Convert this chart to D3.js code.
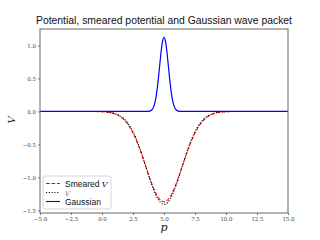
<!DOCTYPE html>
<html>
<head>
<meta charset="utf-8">
<script src="https://cdn.jsdelivr.net/npm/d3@7"></script>
<style>
  body { margin: 0; background: #fff; }
  svg { display: block; }
</style>
</head>
<body>
<svg id="chart" width="320" height="240"></svg>
<script>
// values
var pWell = [-5, -1, 0, 0.5, 1, 1.5, 2, 2.5, 3, 3.5, 4, 4.5, 5, 5.5, 6, 6.5, 7, 7.5, 8, 8.5, 9, 9.5, 10, 11, 15];
var vWell = [0, 0, -0.003, -0.010, -0.029, -0.071, -0.157, -0.307, -0.532, -0.815, -1.105, -1.327, -1.41,
             -1.327, -1.105, -0.815, -0.532, -0.307, -0.157, -0.071, -0.029, -0.010, -0.003, 0, 0];
var vSmeared = [0, -0.001, -0.004, -0.013, -0.035, -0.082, -0.173, -0.326, -0.546, -0.817, -1.089, -1.293, -1.37,
                -1.293, -1.089, -0.817, -0.546, -0.326, -0.173, -0.082, -0.035, -0.013, -0.004, -0.001, 0];

var pPacket = [-5, 3.5, 3.7, 3.8, 3.9, 4.0, 4.1, 4.2, 4.3, 4.4, 4.5, 4.6, 4.7, 4.8, 4.9, 5.0,
               5.1, 5.2, 5.3, 5.4, 5.5, 5.6, 5.7, 5.8, 5.9, 6.0, 6.1, 6.2, 6.3, 6.5, 15];
var vPacket = [0, 0, 0.001, 0.004, 0.009, 0.021, 0.045, 0.089, 0.161, 0.270, 0.417, 0.596, 0.787, 0.960, 1.081, 1.125,
               1.081, 0.960, 0.787, 0.596, 0.417, 0.270, 0.161, 0.089, 0.045, 0.021, 0.009, 0.004, 0.001, 0, 0];

var xTicks = [-5, -2.5, 0, 2.5, 5, 7.5, 10, 12.5, 15];
var yTicks = [-1.5, -1.0, -0.5, 0.0, 0.5, 1.0];

var titleText = "Potential, smeared potential and Gaussian wave packet";

var plot = {left: 40, right: 288, top: 29, bottom: 213};
var svg = d3.select("#chart");

var x = d3.scaleLinear().domain([-5, 15]).range([plot.left, plot.right]);
var y = d3.scaleLinear().domain([-1.54, 1.25]).range([plot.bottom, plot.top]);

var fmt = function(d){ return d3.format(".1f")(d).replace("-", "\u2212"); };

// axes
var xAxis = svg.append("g")
  .attr("transform", "translate(0," + plot.bottom + ")")
  .call(d3.axisBottom(x).tickValues(xTicks).tickFormat(fmt).tickSize(2).tickPadding(2));
var yAxis = svg.append("g")
  .attr("transform", "translate(" + plot.left + ",0)")
  .call(d3.axisLeft(y).tickValues(yTicks).tickFormat(fmt).tickSize(2).tickPadding(2));

[xAxis, yAxis].forEach(function(a){
  a.select(".domain").remove();
  a.selectAll("line").attr("stroke", "#555").attr("stroke-width", 0.8);
  a.selectAll("text")
    .attr("font-family", "'DejaVu Serif', serif")
    .attr("font-size", 5.5)
    .attr("fill", "#444");
});

var clip = svg.append("clipPath").attr("id", "clip")
  .append("rect")
  .attr("x", plot.left).attr("y", plot.top)
  .attr("width", plot.right - plot.left).attr("height", plot.bottom - plot.top);

var lines = svg.append("g").attr("clip-path", "url(#clip)");

var mkLine = function(px){
  return d3.line()
    .x(function(d, i){ return x(px[i]); })
    .y(function(d){ return y(d); })
    .curve(d3.curveMonotoneX);
};

lines.append("path")
  .attr("d", mkLine(pWell)(vSmeared))
  .attr("fill", "none").attr("stroke", "#ff0000")
  .attr("stroke-width", 1.1).attr("stroke-dasharray", "3.8,1.7");

lines.append("path")
  .attr("d", mkLine(pWell)(vWell))
  .attr("fill", "none").attr("stroke", "#000")
  .attr("stroke-width", 1.1).attr("stroke-dasharray", "1.1,1.7");

lines.append("path")
  .attr("d", mkLine(pPacket)(vPacket))
  .attr("fill", "none").attr("stroke", "#0000ff")
  .attr("stroke-width", 1.2);

// frame
svg.append("rect")
  .attr("x", plot.left).attr("y", plot.top)
  .attr("width", plot.right - plot.left).attr("height", plot.bottom - plot.top)
  .attr("fill", "none").attr("stroke", "#666").attr("stroke-width", 1);

// title and labels
svg.append("text")
  .attr("x", (plot.left + plot.right) / 2).attr("y", 23.5)
  .attr("text-anchor", "middle")
  .attr("font-family", "'Liberation Sans', sans-serif")
  .attr("font-size", 10)
  .attr("textLength", 256).attr("lengthAdjust", "spacingAndGlyphs")
  .attr("fill", "#111")
  .text(titleText);

svg.append("text")
  .attr("x", 164).attr("y", 231)
  .attr("text-anchor", "middle")
  .attr("font-family", "'DejaVu Serif', serif").attr("font-style", "italic")
  .attr("font-size", 11).attr("fill", "#222")
  .text("p");

svg.append("text")
  .attr("transform", "translate(15,120) rotate(-90)")
  .attr("text-anchor", "middle")
  .attr("font-family", "'DejaVu Serif', serif").attr("font-style", "italic")
  .attr("font-size", 10).attr("fill", "#222")
  .text("V");

// legend
var legend = svg.append("g").attr("transform", "translate(43,176)");
legend.append("rect")
  .attr("width", 68).attr("height", 33).attr("rx", 2)
  .attr("fill", "#fff").attr("fill-opacity", 0.8)
  .attr("stroke", "#ccc").attr("stroke-width", 0.8);

var items = [
  {label: "Smeared ", math: "V", color: "#ff0000", dash: "3.8,1.7"},
  {label: "", math: "V", color: "#000", dash: "1.1,1.7"},
  {label: "Gaussian", math: "", color: "#0000ff", dash: null}
];

items.forEach(function(it, i){
  var cy = 7.5 + i * 9;
  legend.append("line")
    .attr("x1", 3).attr("x2", 17).attr("y1", cy).attr("y2", cy)
    .attr("stroke", it.color).attr("stroke-width", 1.1)
    .attr("stroke-dasharray", it.dash);
  var t = legend.append("text")
    .attr("x", 22).attr("y", cy + 3)
    .attr("font-family", "'Liberation Sans', sans-serif")
    .attr("font-size", 8.5).attr("fill", "#111");
  t.append("tspan").text(it.label);
  if (it.math) {
    t.append("tspan")
      .attr("font-family", "'DejaVu Serif', serif").attr("font-style", "italic")
      .attr("font-size", it.label ? 8 : 6.5)
      .attr("fill", it.label ? "#111" : "#666")
      .text(it.math);
  }
});
</script>
</body>
</html>
